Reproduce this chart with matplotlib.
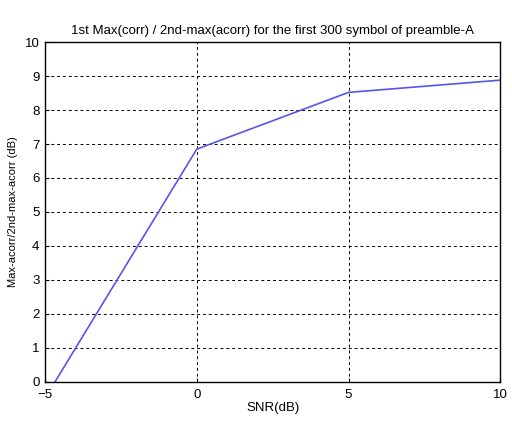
import matplotlib
matplotlib.use("Agg")
import matplotlib.pyplot as plt

snr_db = [-5, 0, 5, 10]
ratio_db = [-0.48, 6.85, 8.52, 8.88]
x_ticks = [-5, 0, 5, 10]
y_ticks = list(range(0, 11))

plt.rcParams["font.family"] = ["Liberation Sans", "DejaVu Sans"]
plt.rcParams["font.size"] = 9.5

fig = plt.figure(figsize=(5.12, 4.21), dpi=100)
ax = fig.add_axes([0.088, 0.093, 0.889, 0.807])
ax.plot(snr_db, ratio_db, color="#5555ee", lw=1.2)
ax.set_xlim(-5, 10)
ax.set_ylim(0, 10)
ax.set_xticks(x_ticks)
ax.set_yticks(y_ticks)
ax.grid(True, color="black", linestyle=(0, (3, 3)), lw=0.7)
ax.tick_params(direction="in", length=3)
ax.tick_params(axis="x", pad=5)
ax.tick_params(axis="y", pad=4)
ax.set_xlabel("SNR(dB)", labelpad=1)
ax.set_ylabel("Max-acorr/2nd-max-acorr (dB)", fontsize=8, labelpad=5)
ax.set_title("1st Max(corr) / 2nd-max(acorr) for the first 300 symbol of preamble-A", fontsize=9.5, pad=6)
for s in ax.spines.values():
    s.set_linewidth(1.0)

fig.savefig("out.png", dpi=100)
